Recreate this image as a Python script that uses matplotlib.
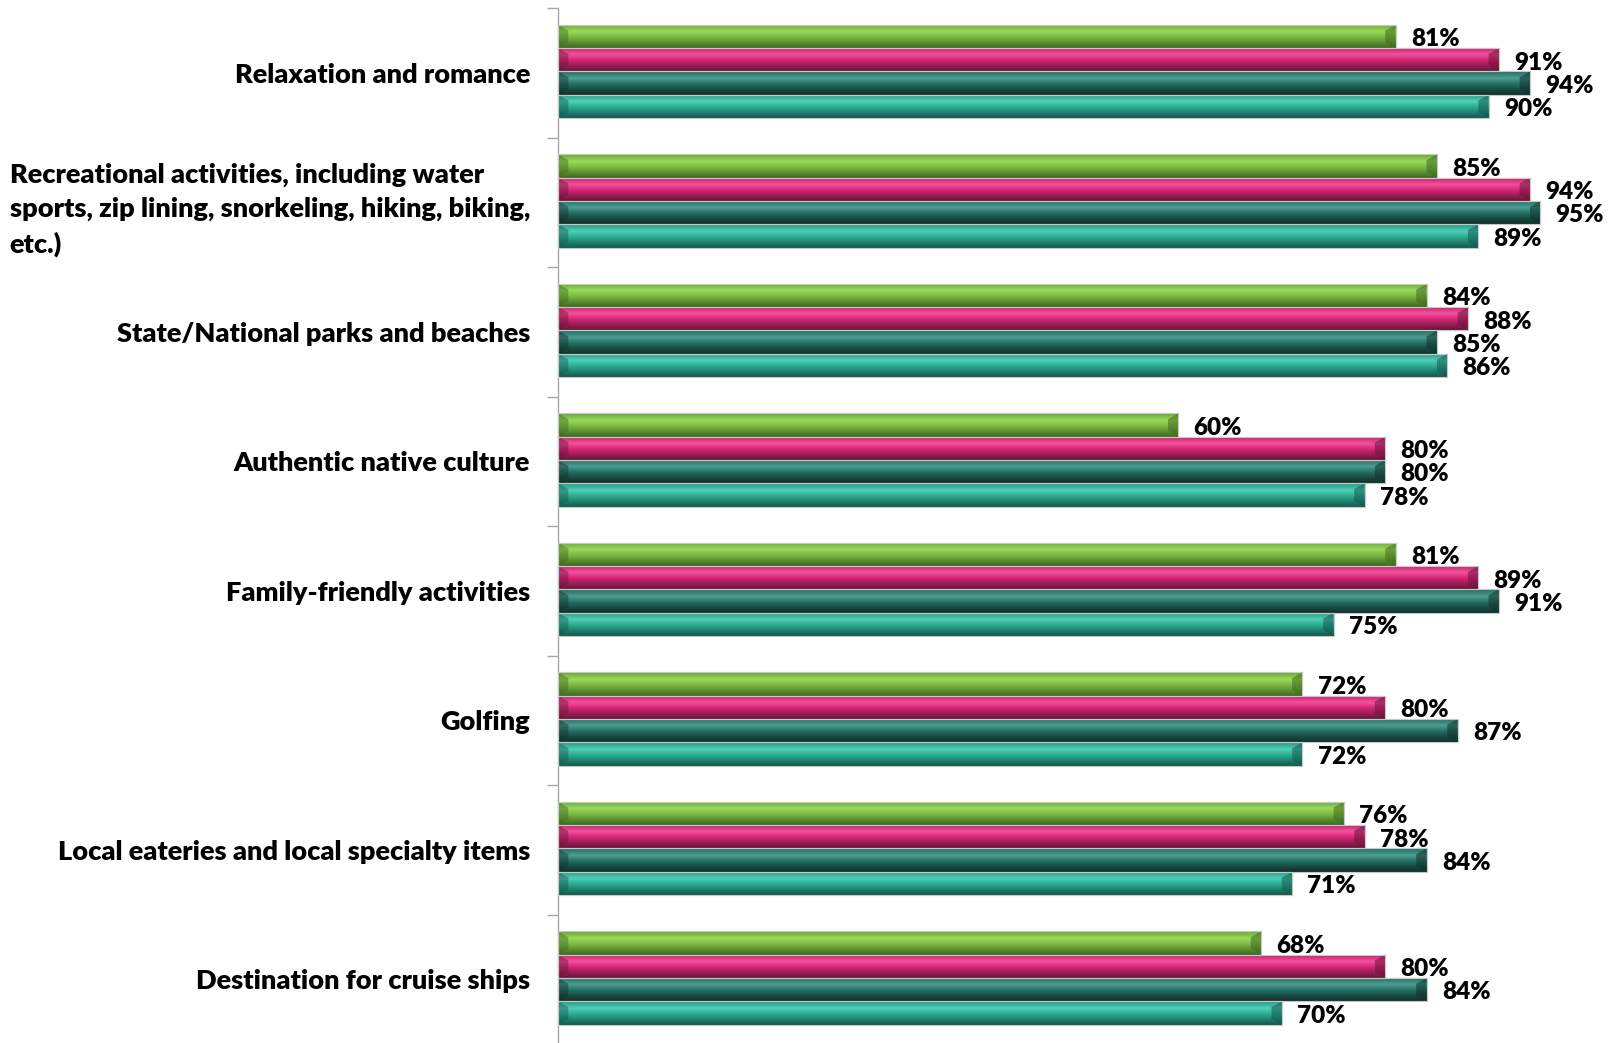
import numpy as np
import matplotlib
matplotlib.use("Agg")
import matplotlib.pyplot as plt
from matplotlib.colors import to_rgb
from matplotlib.patches import Polygon

plt.rcParams['font.family'] = ['Lato', 'DejaVu Sans']

categories = [
    "Relaxation and romance",
    "Recreational activities, including water\nsports, zip lining, snorkeling, hiking, biking,\netc.)",
    "State/National parks and beaches",
    "Authentic native culture",
    "Family-friendly activities",
    "Golfing",
    "Local eateries and local specialty items",
    "Destination for cruise ships",
]
series_a = [81, 85, 84, 60, 81, 72, 76, 68]   # green
series_b = [91, 94, 88, 80, 89, 80, 78, 80]   # magenta
series_c = [94, 95, 85, 80, 91, 87, 84, 84]   # dark teal
series_d = [90, 89, 86, 78, 75, 72, 71, 70]   # teal
series = [series_a, series_b, series_c, series_d]

palettes = [
    # top, light, mid, dark, bottom
    ["#6aa534", "#9bd95d", "#7bb843", "#55862c", "#3f6a1f"],
    ["#c41a68", "#f2529b", "#d62474", "#8c1d50", "#6a1539"],
    ["#1d6d60", "#4f9c90", "#236e62", "#17443d", "#11332d"],
    ["#24977f", "#4fd0b7", "#2ba990", "#1d7666", "#145a4d"],
]

def gradient(pal, n=60):
    stops = [0.0, 0.3, 0.55, 0.82, 1.0]
    cols = np.array([to_rgb(c) for c in pal])
    t = np.linspace(0, 1, n)
    arr = np.zeros((n, 1, 3))
    for k in range(3):
        arr[:, 0, k] = np.interp(t, stops, cols[:, k])
    return arr

fig = plt.figure(figsize=(16.12, 10.43), dpi=100)
ax = fig.add_axes([558/1612, -1/1043, 1034/1612, 1036/1043])

y = np.arange(len(categories))
h = 0.18
offsets = [-0.28, -0.10, 0.08, 0.26]

for si, vals in enumerate(series):
    pos = y + offsets[si]
    bars = ax.barh(pos, vals, height=h, color=palettes[si][2],
                   edgecolor="#bdbdbd", linewidth=0.8, zorder=2)
    grad = gradient(palettes[si])
    for b, v, p in zip(bars, vals, pos):
        y0 = p - h / 2
        y1 = p + h / 2
        im = ax.imshow(grad, extent=(0, v, y1, y0), aspect='auto',
                       interpolation='bilinear', zorder=2.5)
        im.set_clip_path(b)
        d = 1.0
        e = 0.045
        dark = palettes[si][4]
        right = Polygon([(v - d, y0 + e), (v, y0), (v, y1), (v - d, y1 - e)],
                        closed=True, facecolor=dark, alpha=0.55, edgecolor='none', zorder=2.6)
        left = Polygon([(0, y0), (d, y0 + e), (d, y1 - e), (0, y1)],
                       closed=True, facecolor=dark, alpha=0.45, edgecolor='none', zorder=2.6)
        ax.add_patch(right)
        ax.add_patch(left)
        ax.add_patch(Polygon([(0, y0), (v, y0), (v, y1), (0, y1)], closed=True,
                             facecolor='none', edgecolor="#c8c8c8", linewidth=0.8, zorder=2.7))
        ax.annotate(f"{v}%", xy=(v, p), xytext=(11, -2), textcoords='offset points',
                    ha='left', va='center', fontsize=17.5, fontweight='heavy', color='black',
                    zorder=3)

ax.set_xlim(0, 100)
ax.set_ylim(len(categories) - 0.5, -0.5)

ax.set_yticks(y)
ax.set_yticklabels(categories, fontsize=19.5, fontweight='heavy', ha='right',
                   multialignment='left', linespacing=1.5)
ax.tick_params(axis='y', which='major', length=0, pad=20)
ax.set_yticks(np.arange(len(categories) + 1) - 0.5, minor=True)
ax.tick_params(axis='y', which='minor', length=8, width=1, color='#a6a6a6', direction='out')
ax.set_xticks([])

for s in ['top', 'right', 'bottom']:
    ax.spines[s].set_visible(False)
ax.spines['left'].set_color('#a6a6a6')
ax.spines['left'].set_linewidth(1)

fig.savefig("out.png", dpi=100)
